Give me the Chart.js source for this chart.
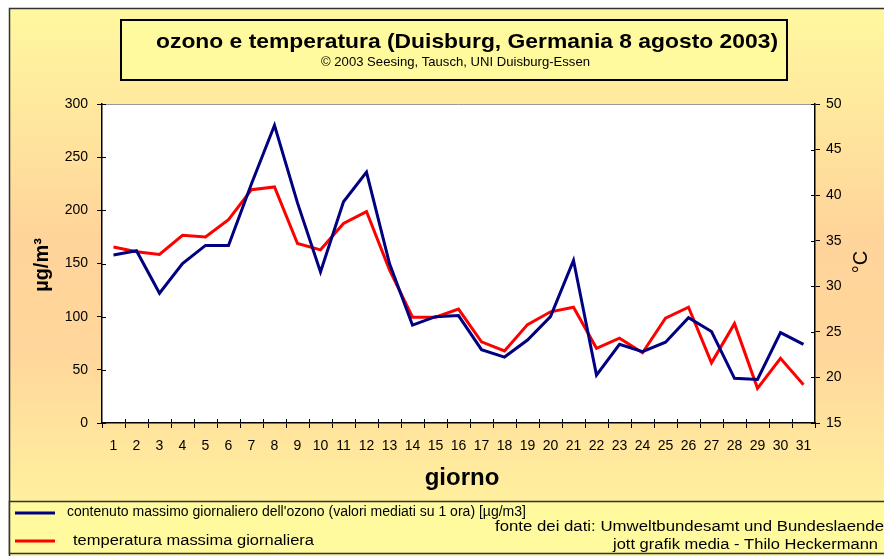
<!DOCTYPE html>
<html>
<head>
<meta charset="utf-8">
<script src="https://cdn.jsdelivr.net/npm/chart.js@4"></script>
<style>
  html, body { margin: 0; padding: 0; background: #fff; }
  #wrap { width: 884px; height: 556px; }
</style>
</head>
<body>
<div id="wrap"><canvas id="ozoneChart" width="884" height="556"></canvas></div>
<script>
// --- Data ---
const days = ['1','2','3','4','5','6','7','8','9','10','11','12','13','14','15','16','17','18','19','20','21','22','23','24','25','26','27','28','29','30','31'];
const ozone = [158, 162, 122, 150, 167, 167, 225, 280, 207, 142, 208, 236, 150, 92, 100, 101, 69, 62, 78, 100, 153, 45, 74, 67, 76, 99, 86, 42, 41, 85, 74];
const temperature = [34.3, 33.8, 33.5, 35.6, 35.4, 37.3, 40.6, 40.9, 34.7, 34.0, 36.9, 38.2, 31.8, 26.6, 26.6, 27.5, 23.9, 22.9, 25.8, 27.2, 27.7, 23.2, 24.3, 22.7, 26.5, 27.7, 21.6, 25.9, 18.8, 22.1, 19.2];

const titleText = 'ozono e temperatura (Duisburg, Germania 8 agosto 2003)';
const subtitleText = '\u00A9 2003 Seesing, Tausch, UNI Duisburg-Essen';
const legendOzone = "contenuto massimo giornaliero dell'ozono (valori mediati su 1 ora) [\u00B5g/m3]";
const legendTemp = 'temperatura massima giornaliera';
const sourceText = 'fonte dei dati: Umweltbundesamt und Bundeslaender';
const creditText = 'jott grafik media - Thilo Heckermann';

const BLUE = '#000080';
const RED = '#ff0000';
const SANS = '"Liberation Sans", Arial, sans-serif';

// draw text squeezed/stretched horizontally to a target width
function fitText(ctx, text, x, y, width, font, measureText) {
    ctx.save();
    ctx.font = font;
    const w = ctx.measureText(measureText || text).width;
    const sx = width / w;
    ctx.translate(x, y);
    ctx.scale(sx, 1);
    ctx.textAlign = 'left';
    ctx.textBaseline = 'middle';
    ctx.fillText(text, 0, 0);
    ctx.restore();
}

// --- Background, frames and title box ---
const backdrop = {
    id: 'backdrop',
    beforeDraw(chart) {
        const ctx = chart.ctx;
        ctx.save();
        ctx.fillStyle = '#ffffff';
        ctx.fillRect(0, 0, 884, 556);
        const g = ctx.createLinearGradient(0, 8, 0, 556);
        g.addColorStop(0, '#fff8a0');
        g.addColorStop(0.42, '#ffd49a');
        g.addColorStop(0.62, '#ffd69b');
        g.addColorStop(0.9, '#fff09e');
        g.addColorStop(1, '#fff4a0');
        ctx.fillStyle = g;
        ctx.fillRect(9, 8, 875, 548);

        // plot area white
        const a = chart.chartArea;
        ctx.fillStyle = '#ffffff';
        ctx.fillRect(a.left, a.top, a.right - a.left, a.bottom - a.top);
        ctx.restore();
    },
    afterDraw(chart) {
        const ctx = chart.ctx;
        const a = chart.chartArea;
        ctx.save();

        // outer frame
        ctx.strokeStyle = '#333333';
        ctx.lineWidth = 1.5;
        ctx.beginPath();
        ctx.moveTo(9.5, 556);
        ctx.lineTo(9.5, 8.5);
        ctx.lineTo(884, 8.5);
        ctx.stroke();

        // plot top border
        ctx.strokeStyle = '#999999';
        ctx.lineWidth = 1;
        ctx.beginPath();
        ctx.moveTo(a.left, a.top + 0.5);
        ctx.lineTo(a.right, a.top + 0.5);
        ctx.stroke();

        // inner half of the crossing ticks
        ctx.strokeStyle = '#000000';
        ctx.lineWidth = 1;
        const yl = chart.scales.y, yr = chart.scales.y1;
        ctx.beginPath();
        yl.ticks.forEach((t, i) => {
            const py = Math.round(yl.getPixelForTick(i)) + 0.5;
            ctx.moveTo(a.left, py); ctx.lineTo(a.left + 4, py);
        });
        yr.ticks.forEach((t, i) => {
            const py = Math.round(yr.getPixelForTick(i)) + 0.5;
            ctx.moveTo(a.right - 4, py); ctx.lineTo(a.right, py);
        });
        const step = (a.right - a.left) / days.length;
        for (let i = 1; i < days.length; i++) {
            const px = Math.round(a.left + step * i) + 0.5;
            ctx.moveTo(px, a.bottom - 4); ctx.lineTo(px, a.bottom);
        }
        ctx.stroke();

        // title box
        ctx.fillStyle = '#fffa9e';
        ctx.fillRect(120, 19, 667, 61);
        ctx.strokeStyle = '#000000';
        ctx.lineWidth = 2;
        ctx.strokeRect(121, 20, 666, 60);
        ctx.fillStyle = '#000000';
        fitText(ctx, titleText, 156, 42, 622, 'bold 21px ' + SANS);
        fitText(ctx, subtitleText, 321, 62, 269, '13px ' + SANS);

        // axis titles
        ctx.save();
        ctx.translate(42, 265);
        ctx.rotate(-Math.PI / 2);
        ctx.font = 'bold 20px ' + SANS;
        ctx.textAlign = 'center';
        ctx.textBaseline = 'middle';
        ctx.fillText('\u00B5g/m\u00B3', 0, 0);
        ctx.restore();

        ctx.save();
        ctx.translate(861, 262);
        ctx.rotate(-Math.PI / 2);
        ctx.font = '20px ' + SANS;
        ctx.textAlign = 'center';
        ctx.textBaseline = 'middle';
        ctx.fillText('\u00B0C', 0, 0);
        ctx.restore();

        ctx.font = 'bold 24px ' + SANS;
        ctx.textAlign = 'center';
        ctx.textBaseline = 'middle';
        ctx.fillText('giorno', 462, 478);

        // legend box
        ctx.fillStyle = '#fffa9e';
        ctx.fillRect(9, 501, 875, 53);
        ctx.strokeStyle = '#333333';
        ctx.lineWidth = 1.5;
        ctx.strokeRect(9.5, 501.5, 880, 52);

        ctx.lineWidth = 3;
        ctx.strokeStyle = BLUE;
        ctx.beginPath(); ctx.moveTo(15, 513); ctx.lineTo(55, 513); ctx.stroke();
        ctx.strokeStyle = RED;
        ctx.beginPath(); ctx.moveTo(15, 541); ctx.lineTo(55, 541); ctx.stroke();

        ctx.fillStyle = '#000000';
        fitText(ctx, legendOzone, 67, 512, 459, '14px ' + SANS);
        fitText(ctx, legendTemp, 73, 541, 241, '14px ' + SANS);
        fitText(ctx, sourceText, 495, 527, 389, '14px ' + SANS, 'fonte dei dati: Umweltbundesamt und Bundeslaende');
        fitText(ctx, creditText, 613, 545, 265, '14px ' + SANS);

        ctx.restore();
    }
};

new Chart(document.getElementById('ozoneChart'), {
    type: 'line',
    data: {
        labels: days,
        datasets: [
            {
                label: 'ozono',
                data: ozone,
                borderColor: BLUE,
                borderWidth: 3,
                pointRadius: 0,
                tension: 0,
                yAxisID: 'y'
            },
            {
                label: 'temperatura',
                data: temperature,
                borderColor: RED,
                borderWidth: 3,
                pointRadius: 0,
                tension: 0,
                yAxisID: 'y1'
            }
        ]
    },
    options: {
        responsive: false,
        devicePixelRatio: 1,
        animation: false,
        layout: { padding: { top: 104, left: 0, right: 0, bottom: 0 } },
        plugins: {
            legend: { display: false },
            tooltip: { enabled: false }
        },
        scales: {
            x: {
                offset: true,
                grid: { display: true, drawOnChartArea: false, offset: true, tickLength: 5, color: '#000' },
                border: { display: true, color: '#000', width: 1.5 },
                ticks: { color: '#000', font: { family: SANS, size: 14 }, padding: 10, maxRotation: 0, autoSkip: false },
                afterFit(scale) { scale.height = 133; }
            },
            y: {
                position: 'left',
                min: 0, max: 300,
                grid: { drawOnChartArea: false, tickLength: 5, color: '#000' },
                border: { display: true, color: '#000', width: 1.5 },
                ticks: { stepSize: 50, color: '#000', font: { family: SANS, size: 14 }, padding: 9 },
                afterFit(scale) { scale.width = 102; }
            },
            y1: {
                position: 'right',
                min: 15, max: 50,
                grid: { drawOnChartArea: false, tickLength: 5, color: '#000' },
                border: { display: true, color: '#000', width: 1.5 },
                ticks: { stepSize: 5, color: '#000', font: { family: SANS, size: 14 }, padding: 6 },
                afterFit(scale) { scale.width = 69; }
            }
        }
    },
    plugins: [backdrop]
});
</script>
</body>
</html>
